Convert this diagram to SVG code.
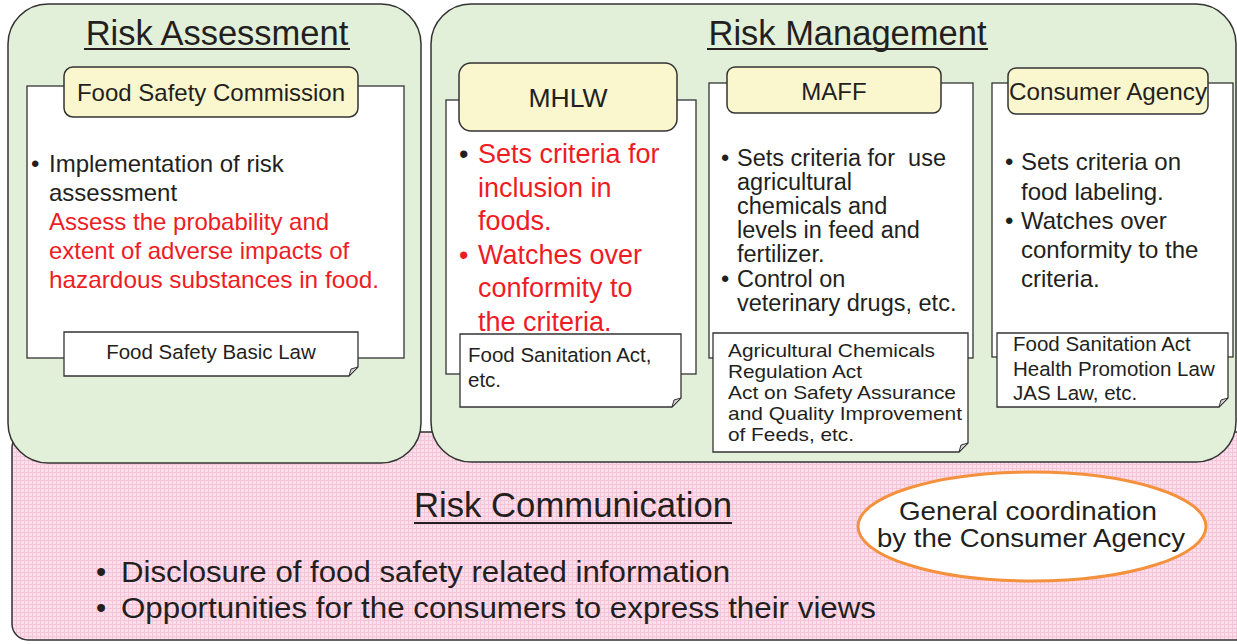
<svg xmlns="http://www.w3.org/2000/svg" width="1237" height="644" viewBox="0 0 1237 644">
<defs>
<pattern id="pinkp" width="4" height="4" patternUnits="userSpaceOnUse">
<rect width="4" height="4" fill="#fbdfea"/>
<rect width="4" height="1" fill="#f6c4d8"/>
<rect width="1" height="4" fill="#f6c4d8"/>
</pattern>
<style>
.t{font-family:"Liberation Sans",Arial,sans-serif;fill:#231f20}
.red{fill:#ee1c25}
.green{fill:#e2efd9;stroke:#333;stroke-width:1.5}
.yellow{fill:#faf6cd;stroke:#333;stroke-width:1.5}
.white{fill:#fff;stroke:#333;stroke-width:1.3}
.fold{fill:#cfcfcf;stroke:#333;stroke-width:1}
.ul{stroke:#231f20;stroke-width:2}
</style>
</defs>

<g id="risk-communication">
<rect x="12" y="432" width="1240" height="208" rx="16" fill="url(#pinkp)" stroke="#333" stroke-width="1.5"/>
<text class="t" x="414" y="517" font-size="34.5" textLength="318" lengthAdjust="spacingAndGlyphs">Risk Communication</text>
<line class="ul" x1="414" y1="523" x2="732" y2="523"/>
<text class="t" x="96" y="582" font-size="29">•</text>
<text class="t" x="121" y="582" font-size="29" textLength="609" lengthAdjust="spacingAndGlyphs">Disclosure of food safety related information</text>
<text class="t" x="96" y="618" font-size="29">•</text>
<text class="t" x="121" y="618" font-size="29" textLength="755" lengthAdjust="spacingAndGlyphs">Opportunities for the consumers to express their views</text>
</g>

<g id="general-coordination">
<ellipse cx="1032" cy="526.5" rx="174" ry="54.5" fill="#fff" stroke="#f4913d" stroke-width="3"/>
<text class="t" x="899" y="520" font-size="25" textLength="258" lengthAdjust="spacingAndGlyphs">General coordination</text>
<text class="t" x="877" y="547" font-size="25" textLength="308" lengthAdjust="spacingAndGlyphs">by the Consumer Agency</text>
</g>

<g id="risk-assessment">
<rect class="green" x="8" y="4" width="413" height="459" rx="40"/>
<text class="t" x="217" y="45" font-size="34.5" text-anchor="middle">Risk Assessment</text>
<line class="ul" x1="84" y1="49" x2="350" y2="49"/>
</g>

<g id="food-safety-commission">
<rect class="white" x="27" y="86" width="377" height="272"/>
<rect class="yellow" x="64" y="67" width="294" height="50" rx="9"/>
<text class="t" x="211" y="101" font-size="24" text-anchor="middle">Food Safety Commission</text>
<text class="t" x="31" y="172" font-size="24">•</text>
<text class="t" x="49" y="172" font-size="24">Implementation of risk</text>
<text class="t" x="49" y="201" font-size="24">assessment</text>
<text class="t red" x="49" y="230" font-size="24">Assess the probability and</text>
<text class="t red" x="49" y="259" font-size="24">extent of adverse impacts of</text>
<text class="t red" x="49" y="288" font-size="24" textLength="330" lengthAdjust="spacingAndGlyphs">hazardous substances in food.</text>
<path class="white" d="M64,332 H358 V367 L349,376 H64 Z"/>
<path class="fold" d="M358,367 L349,376 L351,369 Z"/>
<text class="t" x="211" y="359" font-size="20.5" text-anchor="middle">Food Safety Basic Law</text>
</g>

<g id="risk-management">
<rect class="green" x="431" y="4" width="805" height="458" rx="40"/>
<text class="t" x="847.5" y="45" font-size="34.5" text-anchor="middle">Risk Management</text>
<line class="ul" x1="707" y1="49" x2="988" y2="49"/>
</g>

<g id="mhlw">
<rect class="white" x="446" y="100" width="250" height="274"/>
<rect class="yellow" x="459" y="63" width="218" height="68" rx="12"/>
<text class="t" x="568" y="107" font-size="26.5" text-anchor="middle">MHLW</text>
<text class="t" x="459" y="163" font-size="27">•</text>
<text class="t red" x="478" y="163" font-size="27">Sets criteria for</text>
<text class="t red" x="478" y="196.5" font-size="27">inclusion in</text>
<text class="t red" x="478" y="230" font-size="27">foods.</text>
<text class="t red" x="459" y="263.5" font-size="27">•</text>
<text class="t red" x="478" y="263.5" font-size="27">Watches over</text>
<text class="t red" x="478" y="297" font-size="27">conformity to</text>
<text class="t red" x="478" y="331" font-size="27">the criteria.</text>
<path class="white" d="M460,334 H681 V398 L672,407 H460 Z"/>
<path class="fold" d="M681,398 L672,407 L674,400 Z"/>
<text class="t" x="468" y="362" font-size="20.5">Food Sanitation Act,</text>
<text class="t" x="468" y="387" font-size="20.5">etc.</text>
</g>

<g id="maff">
<rect class="white" x="709" y="83" width="264" height="275"/>
<rect class="yellow" x="727" y="67" width="214" height="46" rx="8"/>
<text class="t" x="834" y="100" font-size="24" text-anchor="middle">MAFF</text>
<text class="t" x="721" y="166" font-size="23.5">•</text>
<text class="t" x="737" y="166" font-size="23.5" style="white-space:pre">Sets criteria for  use</text>
<text class="t" x="737" y="190" font-size="23.5">agricultural</text>
<text class="t" x="737" y="214" font-size="23.5">chemicals and</text>
<text class="t" x="737" y="238" font-size="23.5">levels in feed and</text>
<text class="t" x="737" y="262" font-size="23.5">fertilizer.</text>
<text class="t" x="721" y="287" font-size="23.5">•</text>
<text class="t" x="737" y="287" font-size="23.5">Control on</text>
<text class="t" x="737" y="311" font-size="23.5">veterinary drugs, etc.</text>
<path class="white" d="M713,333 H968 V443 L959,452 H713 Z"/>
<path class="fold" d="M968,443 L959,452 L961,445 Z"/>
<text class="t" x="728" y="357" font-size="19" textLength="207" lengthAdjust="spacingAndGlyphs">Agricultural Chemicals</text>
<text class="t" x="728" y="378" font-size="19" textLength="134" lengthAdjust="spacingAndGlyphs">Regulation Act</text>
<text class="t" x="728" y="399" font-size="19" textLength="228" lengthAdjust="spacingAndGlyphs">Act on Safety Assurance</text>
<text class="t" x="728" y="420" font-size="19" textLength="234" lengthAdjust="spacingAndGlyphs">and Quality Improvement</text>
<text class="t" x="728" y="441" font-size="19" textLength="126" lengthAdjust="spacingAndGlyphs">of Feeds, etc.</text>
</g>

<g id="consumer-agency">
<rect class="white" x="992" y="83" width="241" height="274"/>
<rect class="yellow" x="1008" y="68" width="200" height="46" rx="8"/>
<text class="t" x="1108" y="100" font-size="24" text-anchor="middle" textLength="198" lengthAdjust="spacingAndGlyphs">Consumer Agency</text>
<text class="t" x="1005" y="170" font-size="24">•</text>
<text class="t" x="1021" y="170" font-size="24">Sets criteria on</text>
<text class="t" x="1021" y="200" font-size="24">food labeling.</text>
<text class="t" x="1005" y="229" font-size="24">•</text>
<text class="t" x="1021" y="229" font-size="24">Watches over</text>
<text class="t" x="1021" y="258" font-size="24">conformity to the</text>
<text class="t" x="1021" y="287" font-size="24">criteria.</text>
<path class="white" d="M997,333 H1228 V398 L1219,407 H997 Z"/>
<path class="fold" d="M1228,398 L1219,407 L1221,400 Z"/>
<text class="t" x="1013" y="351" font-size="20.5">Food Sanitation Act</text>
<text class="t" x="1013" y="376" font-size="20.5">Health Promotion Law</text>
<text class="t" x="1013" y="400" font-size="20.5">JAS Law, etc.</text>
</g>

<g id="connectors"/>
</svg>
